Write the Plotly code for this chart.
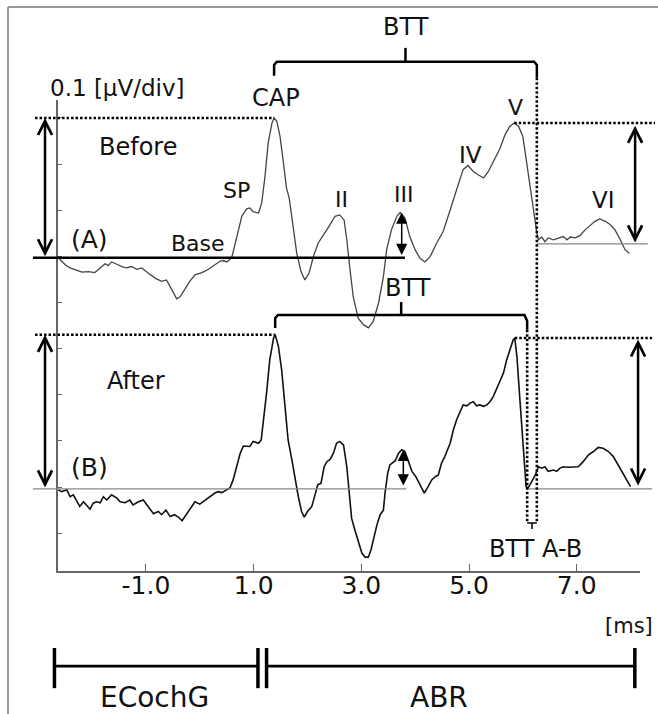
import numpy as np
import plotly.graph_objects as go

# ---------------- data ----------------
# Trace (A) "Before": latency [ms] and amplitude [uV] relative to its own baseline
t_before = [
    -2.63, -2.50, -2.41, -2.32, -2.19, -2.07, -1.95, -1.85, -1.76, -1.70,
    -1.64, -1.54, -1.45, -1.36, -1.27, -1.17, -1.08, -0.96, -0.83, -0.71,
    -0.62, -0.52, -0.43, -0.37, -0.28, -0.18, -0.09, 0.04, 0.16, 0.28,
    0.38, 0.44, 0.50, 0.59, 0.65, 0.72, 0.78, 0.87, 0.93, 0.99,
    1.09, 1.15, 1.21, 1.27, 1.34, 1.38, 1.43, 1.49, 1.55, 1.61,
    1.66, 1.73, 1.80, 1.88, 1.95, 2.03, 2.11, 2.20, 2.33, 2.42,
    2.51, 2.60, 2.68, 2.73, 2.79, 2.85, 2.94, 3.04, 3.13, 3.22,
    3.32, 3.41, 3.47, 3.56, 3.66, 3.72, 3.81, 3.90, 4.00, 4.09,
    4.18, 4.28, 4.40, 4.52, 4.59, 4.71, 4.80, 4.89, 4.98, 5.08,
    5.17, 5.27, 5.36, 5.45, 5.58, 5.67, 5.76, 5.84, 5.92, 6.00,
    6.06, 6.12, 6.19, 6.26, 6.29, 6.35, 6.41, 6.47, 6.57, 6.66,
    6.75, 6.82, 6.88, 6.97, 7.06, 7.16, 7.25, 7.34, 7.43, 7.53,
    7.62, 7.71, 7.81, 7.90, 7.98]
uv_before = [
    0.000, -0.015, -0.022, -0.026, -0.031, -0.030, -0.032, -0.022, -0.013, -0.017,
    -0.009, -0.014, -0.019, -0.022, -0.019, -0.025, -0.022, -0.033, -0.044, -0.051,
    -0.048, -0.069, -0.089, -0.085, -0.069, -0.050, -0.037, -0.032, -0.025, -0.015,
    -0.007, -0.006, -0.009, -0.001, 0.025, 0.061, 0.090, 0.106, 0.108, 0.100,
    0.097, 0.119, 0.176, 0.249, 0.292, 0.303, 0.296, 0.263, 0.209, 0.151,
    0.130, 0.068, 0.010, -0.030, -0.048, -0.033, 0.003, 0.032, 0.054, 0.072,
    0.090, 0.093, 0.082, 0.039, -0.026, -0.084, -0.131, -0.145, -0.152, -0.138,
    -0.098, -0.041, 0.017, 0.061, 0.090, 0.098, 0.086, 0.046, 0.017, -0.001,
    -0.009, 0.003, 0.032, 0.057, 0.082, 0.126, 0.158, 0.191, 0.200, 0.187,
    0.180, 0.173, 0.187, 0.209, 0.238, 0.267, 0.285, 0.292, 0.285, 0.263,
    0.213, 0.162, 0.111, 0.054, 0.039, 0.045, 0.035, 0.043, 0.039, 0.043,
    0.046, 0.039, 0.045, 0.043, 0.048, 0.061, 0.069, 0.079, 0.084, 0.079,
    0.072, 0.061, 0.039, 0.017, 0.010]

# Trace (B) "After"
t_after = [
    -2.63, -2.57, -2.47, -2.41, -2.35, -2.29, -2.23, -2.16, -2.10, -2.04,
    -1.98, -1.92, -1.85, -1.79, -1.73, -1.64, -1.54, -1.48, -1.39, -1.30,
    -1.24, -1.14, -1.05, -0.96, -0.86, -0.77, -0.71, -0.63, -0.55, -0.47,
    -0.40, -0.33, -0.24, -0.15, -0.09, 0.00, 0.10, 0.19, 0.28, 0.34,
    0.41, 0.50, 0.56, 0.62, 0.69, 0.75, 0.81, 0.87, 0.93, 0.99,
    1.09, 1.14, 1.18, 1.24, 1.30, 1.37, 1.40, 1.46, 1.52, 1.58,
    1.64, 1.71, 1.77, 1.83, 1.89, 1.94, 2.00, 2.08, 2.14, 2.19,
    2.25, 2.31, 2.36, 2.42, 2.48, 2.54, 2.60, 2.67, 2.73, 2.78,
    2.82, 2.88, 2.94, 3.01, 3.07, 3.13, 3.18, 3.22, 3.29, 3.35,
    3.41, 3.44, 3.49, 3.53, 3.63, 3.69, 3.75, 3.81, 3.87, 3.94,
    4.01, 4.09, 4.17, 4.24, 4.31, 4.38, 4.43, 4.49, 4.55, 4.65,
    4.71, 4.77, 4.83, 4.89, 4.96, 5.02, 5.08, 5.14, 5.20, 5.27,
    5.33, 5.39, 5.45, 5.51, 5.58, 5.64, 5.70, 5.76, 5.82, 5.85,
    5.89, 5.95, 6.01, 6.06, 6.10, 6.17, 6.23, 6.29, 6.35, 6.41,
    6.47, 6.57, 6.63, 6.69, 6.75, 6.84, 6.94, 7.03, 7.12, 7.22,
    7.31, 7.40, 7.49, 7.59, 7.68, 7.77, 7.87, 7.96, 8.00]
uv_after = [
    -0.002, -0.006, -0.002, -0.017, -0.013, -0.024, -0.038, -0.028, -0.035, -0.044,
    -0.031, -0.028, -0.030, -0.017, -0.024, -0.013, -0.020, -0.028, -0.030, -0.024,
    -0.035, -0.028, -0.024, -0.038, -0.054, -0.049, -0.056, -0.046, -0.060, -0.056,
    -0.061, -0.069, -0.053, -0.038, -0.028, -0.033, -0.024, -0.017, -0.009, -0.006,
    -0.008, -0.002, 0.002, 0.020, 0.048, 0.077, 0.093, 0.093, 0.092, 0.103,
    0.099, 0.106, 0.143, 0.208, 0.280, 0.327, 0.334, 0.309, 0.258, 0.179,
    0.106, 0.063, 0.020, -0.017, -0.049, -0.061, -0.049, -0.038, -0.013, 0.009,
    0.012, 0.048, 0.059, 0.064, 0.077, 0.099, 0.103, 0.095, 0.048, -0.009,
    -0.064, -0.089, -0.114, -0.139, -0.148, -0.148, -0.132, -0.111, -0.078, -0.056,
    -0.046, -0.009, 0.034, 0.052, 0.061, 0.077, 0.085, 0.081, 0.063, 0.038,
    0.027, 0.009, -0.009, 0.005, 0.020, 0.027, 0.030, 0.056, 0.070, 0.099,
    0.128, 0.150, 0.168, 0.182, 0.180, 0.186, 0.189, 0.180, 0.182, 0.179,
    0.182, 0.189, 0.200, 0.215, 0.233, 0.251, 0.280, 0.302, 0.323, 0.327,
    0.287, 0.186, 0.077, 0.005, 0.002, 0.016, 0.030, 0.048, 0.045, 0.048,
    0.038, 0.041, 0.038, 0.045, 0.048, 0.047, 0.048, 0.048, 0.059, 0.074,
    0.081, 0.090, 0.088, 0.081, 0.070, 0.052, 0.034, 0.016, 0.005]

offset_before = 0.497     # vertical offset of trace (A) on the 0.1 uV/div scale
offset_after = -0.004     # vertical offset of trace (B)
post_v_base_before = 0.030  # level of the thin baseline after wave V in (A)

btt_end_before = 6.26     # end of BTT in (A) [ms]
btt_end_after = 6.08      # end of BTT in (B) [ms]
ecochg_span = [-2.70, 1.08]
abr_span = [1.24, 8.08]

x_tick_vals = [-1.0, 1.0, 3.0, 5.0, 7.0]
x_tick_text = ["-1.0", "1.0", "3.0", "5.0", "7.0"]
y_tick_vals = [-0.1, 0.0, 0.1, 0.2, 0.3, 0.4, 0.5, 0.6, 0.7, 0.8]

# ---------------- layout geometry ----------------
W, H = 658, 714
ML, MR, MT, MB = 58, 18, 100, 143
PW, PH = W - ML - MR, H - MT - MB
X_RANGE = [-2.634, 8.176]
Y_RANGE = [-0.182, 0.839]
FONT = "DejaVu Sans"


def xp(t):
    return (t - X_RANGE[0]) / (X_RANGE[1] - X_RANGE[0])


def yp(v):
    return (v - Y_RANGE[0]) / (Y_RANGE[1] - Y_RANGE[0])


def PX(px):
    return (px - ML) / PW


def PY(py):
    return (H - MB - py) / PH


ta, va = np.array(t_before), np.array(uv_before)
tb, vb = np.array(t_after), np.array(uv_after)
ya = va + offset_before
yb = vb + offset_after


def peak(t, v, lo, hi):
    m = (t >= lo) & (t <= hi)
    i = np.argmax(np.where(m, v, -np.inf))
    return t[i], v[i]


capA_t, capA_v = peak(ta, va, 0.5, 2.5)
vA_t, vA_v = peak(ta, va, 5.0, 6.5)
iiiA_t, iiiA_v = peak(ta, va, 3.5, 4.1)
capB_t, capB_v = peak(tb, vb, 0.5, 2.5)
vB_t, vB_v = peak(tb, vb, 5.0, 6.5)
iiiB_t, iiiB_v = peak(tb, vb, 3.5, 4.1)

fig = go.Figure()
fig.add_trace(go.Scatter(x=t_before, y=ya, mode="lines",
                         line=dict(color="#444444", width=1.3), showlegend=False))
fig.add_trace(go.Scatter(x=t_after, y=yb, mode="lines",
                         line=dict(color="#111111", width=1.6), showlegend=False))

shapes = []


def seg(t0, v0, t1, v1, color="black", width=2.5, dash="solid"):
    shapes.append(dict(type="line", xref="paper", yref="paper",
                       x0=xp(t0), y0=yp(v0), x1=xp(t1), y1=yp(v1),
                       line=dict(color=color, width=width, dash=dash)))


def path(points, width=2.5, color="black"):
    d = "M" + " L".join(f"{xp(t):.5f},{yp(v):.5f}" for t, v in points)
    shapes.append(dict(type="path", xref="paper", yref="paper", path=d,
                       line=dict(color=color, width=width)))


DOT = "2.5px,2px"
DW = 2.6
# baselines
seg(-3.10, offset_before, 3.81, offset_before, width=2.6)
seg(-3.10, offset_after, 3.84, offset_after, color="#888888", width=1.2)
seg(btt_end_after, offset_after, 8.40, offset_after, color="#888888", width=1.2)
seg(btt_end_before, offset_before + post_v_base_before, 8.32,
    offset_before + post_v_base_before, color="#888888", width=1.2)
# dotted amplitude levels
seg(-3.06, offset_before + capA_v, capA_t, offset_before + capA_v, width=DW, dash=DOT)
seg(vA_t, offset_before + vA_v, 8.455, offset_before + vA_v, width=DW, dash=DOT)
seg(-3.06, offset_after + capB_v, capB_t, offset_after + capB_v, width=DW, dash=DOT)
seg(vB_t, offset_after + vB_v, 8.40, offset_after + vB_v, width=DW, dash=DOT)
# vertical dotted BTT ends
bot = -0.078
seg(btt_end_before, 0.887, btt_end_before, bot, width=DW, dash=DOT)
seg(btt_end_after, 0.341, btt_end_after, bot, width=DW, dash=DOT)
path([(btt_end_after, bot), (btt_end_before, bot)], width=1.5)
mid_ab = (btt_end_after + btt_end_before) / 2
seg(mid_ab, bot, mid_ab, -0.091, width=1.5)
# BTT brackets
path([(capA_t, 0.8915), (capA_t, 0.915), (capA_t + 0.05, 0.922),
      (btt_end_before - 0.05, 0.922), (btt_end_before, 0.915), (btt_end_before, 0.887)])
midA = (capA_t + btt_end_before) / 2
seg(midA, 0.922, midA, 0.952, width=2.5)
path([(capB_t, 0.345), (capB_t, 0.366), (capB_t + 0.05, 0.373),
      (btt_end_after - 0.05, 0.373), (btt_end_after, 0.36), (btt_end_after, 0.341)])
midB = (capB_t + btt_end_after) / 2
seg(midB, 0.373, midB, 0.401, width=2.5)
# ECochG / ABR bar
bar_y, bar_lo, bar_hi = -0.388, -0.349, -0.436
for lo, hi in (ecochg_span, abr_span):
    seg(lo, bar_y, hi, bar_y, width=2.8)
    seg(lo, bar_lo, lo, bar_hi, width=3.5)
    seg(hi, bar_lo, hi, bar_hi, width=3.5)
# frame of the picture
shapes.append(dict(type="line", xref="paper", yref="paper", x0=PX(8), y0=PY(7),
                   x1=PX(8), y1=PY(H + 2), line=dict(color="#777777", width=1.5)))
shapes.append(dict(type="line", xref="paper", yref="paper", x0=PX(8), y0=PY(7),
                   x1=PX(W + 2), y1=PY(7), line=dict(color="#777777", width=1.5)))

annotations = []


def darrow(t, v_top, v_bot, head=5, width=2.5, size=1.0):
    length = (yp(v_top) - yp(v_bot)) * PH
    annotations.append(dict(xref="paper", yref="paper", x=xp(t), y=yp(v_top),
                            axref="pixel", ayref="pixel", ax=0, ay=length,
                            text="", showarrow=True, arrowside="end+start",
                            arrowhead=head, startarrowhead=head,
                            arrowsize=size, startarrowsize=size,
                            arrowwidth=width, arrowcolor="black",
                            standoff=0, startstandoff=0))


darrow(-2.875, offset_before + capA_v, offset_before, size=1.1)
darrow(-2.875, offset_after + capB_v, offset_after, size=1.1)
darrow(8.085, offset_before + vA_v - 0.006, offset_before + post_v_base_before, size=1.1)
darrow(8.14, offset_after + vB_v - 0.003, offset_after + 0.004, size=1.1)
darrow(iiiA_t + 0.03, offset_before + iiiA_v, offset_before + 0.003, head=2, width=1.5, size=1.5)
darrow(iiiB_t + 0.03, offset_after + iiiB_v, offset_after + 0.004, head=2, width=1.5, size=1.5)

labels = [
    ("0.1 [μV/div]", 48, 88, 23, "left"),
    ("CAP", 276, 98, 24, "center"),
    ("Before", 137.5, 147, 24, "center"),
    ("SP", 236, 190.5, 22, "center"),
    ("(A)", 89, 239, 25, "center"),
    ("Base", 197.5, 243.5, 22, "center"),
    ("II", 341, 199.5, 22, "center"),
    ("III", 403, 194.5, 22, "center"),
    ("IV", 470, 155, 23, "center"),
    ("V", 515, 107.5, 22, "center"),
    ("VI", 603, 200.5, 23, "center"),
    ("BTT", 406, 27, 24, "center"),
    ("BTT", 408, 288, 24, "center"),
    ("After", 136, 380.5, 24, "center"),
    ("(B)", 89.5, 467.5, 25, "center"),
    ("BTT A-B", 535, 549, 24, "center"),
    ("[ms]", 629, 625.5, 21, "center"),
    ("ECochG", 154, 697, 28, "center"),
    ("ABR", 439, 697, 28, "center"),
]
for text, cx, cy, size, anc in labels:
    annotations.append(dict(xref="paper", yref="paper", x=PX(cx), y=PY(cy),
                            text=text, showarrow=False, xanchor=anc, yanchor="middle",
                            font=dict(family=FONT, size=size, color="#111111")))

fig.update_layout(
    width=W, height=H, margin=dict(l=ML, r=MR, t=MT, b=MB),
    paper_bgcolor="white", plot_bgcolor="white",
    shapes=shapes, annotations=annotations, showlegend=False,
    xaxis=dict(range=X_RANGE, showgrid=False, zeroline=False, showline=True,
               linecolor="#666666", linewidth=1.5, ticks="inside", ticklen=7,
               tickcolor="#666666", tickwidth=1.3, tickvals=x_tick_vals,
               ticktext=x_tick_text, ticklabelstandoff=-9,
               tickfont=dict(family=FONT, size=25, color="#111111")),
    yaxis=dict(range=Y_RANGE, showgrid=False, zeroline=False, showline=True,
               linecolor="#666666", linewidth=1.5, ticks="inside", ticklen=4,
               tickcolor="#666666", tickwidth=1.3, tickvals=y_tick_vals,
               showticklabels=False),
)

fig.write_html("out.html")
